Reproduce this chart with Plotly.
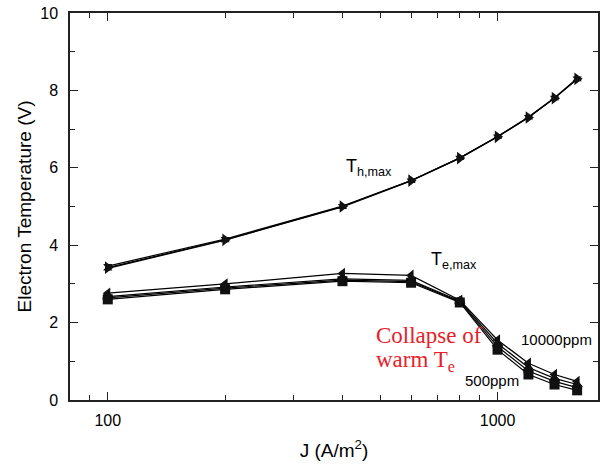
import plotly.graph_objects as go
import numpy as np

J = [100, 200, 400, 600, 800, 1000, 1200, 1400, 1600]

# T_h,max series (nearly coincident)
th_a = [3.42, 4.14, 5.00, 5.67, 6.25, 6.80, 7.30, 7.80, 8.30]
th_b = [3.46, 4.16, 5.01, 5.67, 6.26, 6.81, 7.31, 7.81, 8.31]
th_c = [3.40, 4.13, 4.99, 5.66, 6.25, 6.80, 7.30, 7.80, 8.29]

# T_e,max series, 500ppm ... 10000ppm
te_500 = [2.60, 2.86, 3.07, 3.03, 2.52, 1.30, 0.66, 0.40, 0.25]
te_1000 = [2.64, 2.89, 3.10, 3.06, 2.54, 1.38, 0.75, 0.48, 0.32]
te_5000 = [2.67, 2.92, 3.13, 3.09, 2.56, 1.46, 0.84, 0.56, 0.40]
te_10000 = [2.76, 3.00, 3.27, 3.22, 2.58, 1.55, 0.95, 0.66, 0.48]

x_ticks = [100, 1000]
x_minor = [90, 200, 300, 400, 500, 600, 700, 800, 900]
y_ticks = [0, 2, 4, 6, 8, 10]

fig = go.Figure()

def add(y, sym, size=10):
    fig.add_trace(go.Scatter(
        x=J, y=y, mode="lines+markers",
        line=dict(color="black", width=1.2),
        marker=dict(symbol=sym, size=size, color="#111"),
        showlegend=False))

for y, s, sz in [(th_c, "triangle-up", 8), (th_b, "triangle-down", 8), (th_a, "triangle-right", 11)]:
    add(y, s, sz)
for y, s in [(te_500, "square"), (te_1000, "circle"), (te_5000, "triangle-up"), (te_10000, "triangle-left")]:
    add(y, s)

FF = "Arial, Liberation Sans, sans-serif"
tf = dict(family=FF, size=16, color="black")
ttf = dict(family=FF, size=19, color="black")

fig.update_layout(
    width=605, height=467,
    margin=dict(l=70, r=5, t=11, b=67),
    paper_bgcolor="white", plot_bgcolor="white",
    xaxis=dict(type="log", range=[np.log10(80), np.log10(1810)],
               tickvals=x_ticks, ticktext=["100", "1000"],
               ticks="inside", ticklen=8, tickwidth=1.2, tickcolor="#222",
               minor=dict(tickvals=x_minor, ticks="inside", ticklen=5, tickwidth=1.2, tickcolor="#222"),
               showline=True, linecolor="#222", linewidth=1.5, mirror="ticks",
               showgrid=False, zeroline=False, tickfont=tf, ticklabelstandoff=5,
               title=dict(text="J (A/m<sup>2</sup>)", font=ttf, standoff=16)),
    yaxis=dict(range=[0, 10], tickvals=y_ticks,
               ticks="inside", ticklen=8, tickwidth=1.2, tickcolor="#222",
               minor=dict(dtick=1, ticks="inside", ticklen=5, tickwidth=1.2, tickcolor="#222"),
               showline=True, linecolor="#222", linewidth=1.5, mirror="ticks",
               showgrid=False, zeroline=False, tickfont=tf, ticklabelstandoff=7,
               title=dict(text="Electron Temperature (V)", font=ttf, standoff=4)),
)

af = dict(family=FF, size=18, color="black")
fig.add_annotation(x=np.log10(404), y=6.35, xref="x", yref="y", text="T<sub>h,max</sub>",
                   showarrow=False, font=af, xanchor="left", yanchor="top")
fig.add_annotation(x=np.log10(665), y=3.95, xref="x", yref="y", text="T<sub>e,max</sub>",
                   showarrow=False, font=af, xanchor="left", yanchor="top")
rf = dict(family="Liberation Serif, Times New Roman, serif", size=23, color="#e8202a")
fig.add_annotation(x=np.log10(482), y=1.66, xref="x", yref="y", text="Collapse of",
                   showarrow=False, font=rf, xanchor="left", yanchor="middle")
fig.add_annotation(x=np.log10(482), y=1.0, xref="x", yref="y", text="warm T<sub>e</sub>",
                   showarrow=False, font=rf, xanchor="left", yanchor="middle")
pf = dict(family=FF, size=15, color="black")
fig.add_annotation(x=np.log10(1132), y=1.57, xref="x", yref="y", text="10000ppm",
                   showarrow=False, font=pf, xanchor="left", yanchor="middle")
fig.add_annotation(x=np.log10(1151), y=0.51, xref="x", yref="y", text="500ppm",
                   showarrow=False, font=pf, xanchor="right", yanchor="middle")

fig.write_html("out.html")
